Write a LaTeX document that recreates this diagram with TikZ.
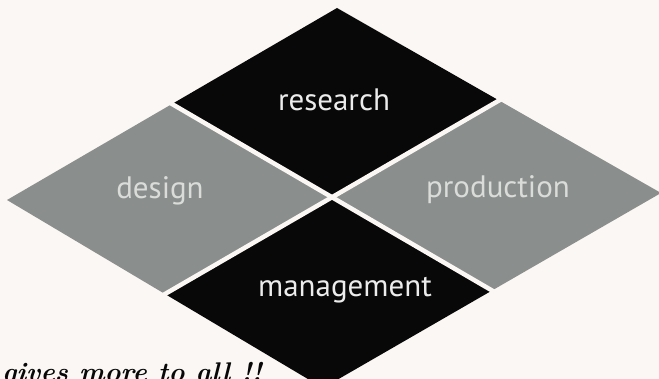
\documentclass[tikz,border=0pt]{standalone}
\usepackage{fontspec}
\setmainfont{PT Sans}
\newfontfamily\slogan{Latin Modern Roman}
\usetikzlibrary{calc}
\definecolor{bgcol}{RGB}{251,247,244}
\definecolor{blk}{RGB}{8,8,8}
\definecolor{gry}{RGB}{138,142,140}
\definecolor{lbllight}{RGB}{236,236,236}
\definecolor{lblgrey}{RGB}{218,220,218}
\tikzset{
  quad/.style={draw=none},
  gap/.style={draw=bgcol, line width=4.5pt},
  lbl/.style={font=\fontsize{31}{36}\selectfont, inner sep=0pt, anchor=base},
}
\begin{document}
\begin{tikzpicture}[x=1pt,y=-1pt]
\useasboundingbox (0,0) rectangle (659,379);
\clip (0,0) rectangle (659,379);
\fill[bgcol] (0,0) rectangle (659,379);
\coordinate (T) at (337,8);
\coordinate (L) at (7,200);
\coordinate (R) at (661,193);
\coordinate (C) at (330,198);
\coordinate (B) at (323,388);
\coordinate (TL) at ($(T)!0.5!(L)$);
\coordinate (TR) at ($(T)!0.5!(R)$);
\coordinate (BL) at ($(B)!0.5!(L)$);
\coordinate (BR) at ($(B)!0.5!(R)$);
\fill[quad, blk] (T) -- (TR) -- (C) -- (TL) -- cycle;
\fill[quad, gry] (L) -- (TL) -- (C) -- (BL) -- cycle;
\fill[quad, gry] (R) -- (TR) -- (C) -- (BR) -- cycle;
\fill[quad, blk] (B) -- (BL) -- (C) -- (BR) -- cycle;
\draw[gap] ($(TL)!-0.05!(BR)$) -- ($(BR)!-0.05!(TL)$);
\draw[gap] ($(TR)!-0.05!(BL)$) -- ($(BL)!-0.05!(TR)$);
\node[lbl, text=lbllight] (research) at (334,111) {research};
\node[lbl, text=lblgrey] (design) at (160,199) {design};
\node[lbl, text=lblgrey] (production) at (498,198) {production};
\node[lbl, text=lbllight] (management) at (345,297) {management};
\node[inner sep=0pt, anchor=base west, text=blk, font=\slogan\bfseries\itshape\fontsize{27}{32}\selectfont] (slogan) at (2,382) {gives more to all !!};
\end{tikzpicture}
\end{document}
